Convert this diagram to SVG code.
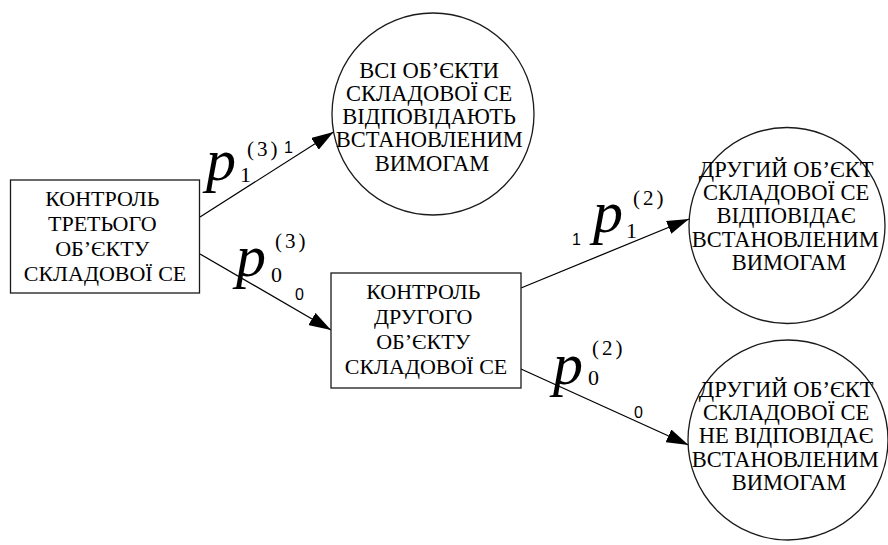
<svg xmlns="http://www.w3.org/2000/svg" width="888" height="545" viewBox="0 0 888 545">
  <style>
    .node { fill: #ffffff; stroke: #1a1a1a; stroke-width: 1.3; }
    .txt { font-family: "Liberation Serif", "Times New Roman", serif; fill: #000; text-anchor: middle; }
    .box { font-size: 22px; }
    .circ { font-size: 22.5px; }
    .edge { stroke: #000; stroke-width: 1.25; fill: none; marker-end: url(#arrow); }
    .p { font-family: "Liberation Serif", "Times New Roman", serif; font-style: italic; font-size: 60px; fill: #000; }
    .sub { font-family: "Liberation Serif", "Times New Roman", serif; font-size: 22px; fill: #000; }
    .sup { font-family: "Liberation Serif", "Times New Roman", serif; font-size: 21px; fill: #000; letter-spacing: 3px; }
    .sans { font-family: "Liberation Sans", Arial, sans-serif; font-size: 16px; fill: #000; }
  </style>
  <defs>
    <marker id="arrow" markerUnits="userSpaceOnUse" markerWidth="22" markerHeight="14" refX="22" refY="7" orient="auto">
      <path d="M0,0 L22,7 L0,14 z" fill="#000"/>
    </marker>
  </defs>
  <rect width="888" height="545" fill="#ffffff"/>

  <!-- connectors -->
  <g id="connectors">
    <line class="edge" x1="200" y1="217" x2="333.5" y2="132"/>
    <line class="edge" x1="200" y1="254" x2="331" y2="330"/>
    <line class="edge" x1="521" y1="288" x2="689" y2="219"/>
    <line class="edge" x1="521" y1="369" x2="688.5" y2="445"/>
  </g>

  <!-- control of the third object -->
  <g id="control3">
    <rect class="node" x="10.5" y="180" width="189" height="113"/>
    <text class="txt box">
      <tspan x="105" y="206">КОНТРОЛЬ</tspan>
      <tspan x="105" y="231">ТРЕТЬОГО</tspan>
      <tspan x="105" y="256">ОБ’ЄКТУ</tspan>
      <tspan x="105" y="281">СКЛАДОВОЇ СЕ</tspan>
    </text>
  </g>

  <!-- control of the second object -->
  <g id="control2">
    <rect class="node" x="331" y="273" width="190" height="115"/>
    <text class="txt box">
      <tspan x="426" y="299">КОНТРОЛЬ</tspan>
      <tspan x="426" y="324">ДРУГОГО</tspan>
      <tspan x="426" y="349">ОБ’ЄКТУ</tspan>
      <tspan x="426" y="374">СКЛАДОВОЇ СЕ</tspan>
    </text>
  </g>

  <!-- outcome: all objects conform -->
  <g id="allOk">
    <circle class="node" cx="433" cy="114" r="101"/>
    <text class="txt circ">
      <tspan x="432" y="78">ВСІ ОБ’ЄКТИ</tspan>
      <tspan x="432" y="101">СКЛАДОВОЇ СЕ</tspan>
      <tspan x="432" y="124">ВІДПОВІДАЮТЬ</tspan>
      <tspan x="432" y="147">ВСТАНОВЛЕНИМ</tspan>
      <tspan x="432" y="171">ВИМОГАМ</tspan>
    </text>
  </g>

  <!-- outcome: second object conforms -->
  <g id="secondOk">
    <circle class="node" cx="787" cy="225.5" r="98"/>
    <text class="txt circ">
      <tspan x="789" y="177">ДРУГИЙ ОБ’ЄКТ</tspan>
      <tspan x="789" y="200">СКЛАДОВОЇ СЕ</tspan>
      <tspan x="789" y="223">ВІДПОВІДАЄ</tspan>
      <tspan x="788" y="247">ВСТАНОВЛЕНИМ</tspan>
      <tspan x="789" y="270">ВИМОГАМ</tspan>
    </text>
  </g>

  <!-- outcome: second object does not conform -->
  <g id="secondFail">
    <circle class="node" cx="788" cy="440" r="100"/>
    <text class="txt circ">
      <tspan x="789" y="397">ДРУГИЙ ОБ’ЄКТ</tspan>
      <tspan x="789" y="420">СКЛАДОВОЇ СЕ</tspan>
      <tspan x="789" y="443">НЕ ВІДПОВІДАЄ</tspan>
      <tspan x="788" y="467">ВСТАНОВЛЕНИМ</tspan>
      <tspan x="789" y="490">ВИМОГАМ</tspan>
    </text>
  </g>

  <!-- transition probabilities -->
  <g id="labels">
    <text class="p" x="206" y="180">p</text>
    <text class="sub" x="240" y="182">1</text>
    <text class="sup" x="247" y="156">(3)</text>
    <text class="sans" x="284" y="153">1</text>

    <text class="p" x="236" y="276">p</text>
    <text class="sub" x="271" y="282">0</text>
    <text class="sup" x="275" y="248">(3)</text>
    <text class="sans" x="295" y="300">0</text>

    <text class="sans" x="572" y="245">1</text>
    <text class="p" x="593" y="232">p</text>
    <text class="sub" x="626" y="238">1</text>
    <text class="sup" x="633" y="205">(2)</text>

    <text class="p" x="553" y="384">p</text>
    <text class="sub" x="588" y="385">0</text>
    <text class="sup" x="592" y="355">(2)</text>
    <text class="sans" x="634" y="418">0</text>
  </g>
</svg>
